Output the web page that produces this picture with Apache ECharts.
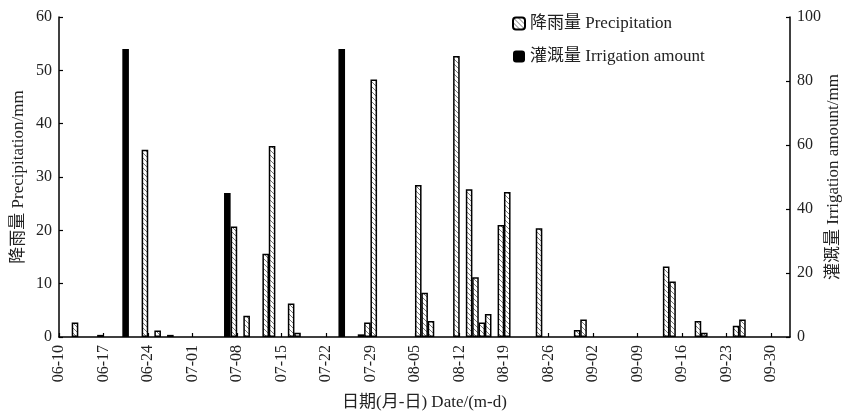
<!DOCTYPE html>
<html>
<head>
<meta charset="utf-8">
<script src="https://cdn.jsdelivr.net/npm/echarts@6/dist/echarts.min.js"></script>
<style>
html,body{margin:0;padding:0;background:#fff;}
#chart{width:844px;height:412px;}
</style>
</head>
<body>
<div id="chart"></div>
<script>
// ---- Data ----
const startDate = '06-10';
const tickLabels = ['06-10','06-17','06-24','07-01','07-08','07-15','07-22','07-29','08-05','08-12','08-19','08-26','09-02','09-09','09-16','09-23','09-30'];
const precipDates = ['06-12','06-16','06-23','06-25','06-27','07-07','07-09','07-12','07-13','07-16','07-17','07-27','07-28','07-29','08-05','08-06','08-07','08-11','08-13','08-14','08-15','08-16','08-18','08-19','08-24','08-30','08-31','09-13','09-14','09-18','09-19','09-24','09-25'];
const precipValues = [2.7,0.4,35.1,1.2,0.4,20.7,4.0,15.6,35.8,6.3,0.8,0.5,2.7,48.3,28.5,8.3,3.0,52.7,27.7,11.2,2.7,4.3,21.0,27.2,20.4,1.3,3.3,13.2,10.4,3.0,0.8,2.1,3.3];
const irrigDates = ['06-21','07-07','07-25'];
const irrigValues = [90,45,90];
const precipName = '降雨量 Precipitation';
const irrigName = '灌溉量 Irrigation amount';

function dayIndex(md){
  const p = md.split('-').map(Number);
  const s = startDate.split('-').map(Number);
  return Math.round((Date.UTC(2001,p[0]-1,p[1]) - Date.UTC(2001,s[0]-1,s[1]))/86400000);
}

// hatch pattern
const pc = document.createElement('canvas');
pc.width = 5; pc.height = 5;
const cx = pc.getContext('2d');
cx.fillStyle = '#fff'; cx.fillRect(0,0,5,5);
cx.strokeStyle = '#7a7a7a'; cx.lineWidth = 1;
cx.beginPath();
cx.moveTo(-1,-1); cx.lineTo(6,6);
cx.moveTo(-1,4); cx.lineTo(1,6);
cx.moveTo(4,-1); cx.lineTo(6,1);
cx.stroke();

const FONT = "'Liberation Serif', 'Noto Sans CJK SC', serif";
const chart = echarts.init(document.getElementById('chart'));
chart.setOption({
  animation: false,
  backgroundColor: '#fff',
  textStyle: {fontFamily: FONT},
  grid: {left: 59, right: 54, top: 17, bottom: 75, containLabel: false, outerBoundsMode: 'none'},
  legend: {
    data: [precipName, irrigName],
    orient: 'vertical', left: 507, top: 10,
    itemWidth: 12, itemHeight: 12, itemGap: 16,
    textStyle: {fontFamily: FONT, fontSize: 17, color: '#222'}
  },
  xAxis: {
    type: 'value', min: 0, max: 115, interval: 7,
    name: '日期(月-日) Date/(m-d)', nameLocation: 'middle', nameGap: 57,
    nameTextStyle: {fontFamily: FONT, fontSize: 17, color: '#222'},
    axisLine: {show: true, lineStyle: {color: '#000', width: 1.5}},
    axisTick: {show: true, inside: true, length: 4, lineStyle: {color: '#000', width: 1.2}},
    splitLine: {show: false},
    axisLabel: {
      rotate: 90, margin: 8, fontSize: 16, color: '#222', fontFamily: FONT,
      showMaxLabel: false,
      formatter: function(v){ return (v % 7 === 0 && v/7 < tickLabels.length) ? tickLabels[v/7] : ''; }
    }
  },
  yAxis: [
    {
      type: 'value', min: 0, max: 60, interval: 10, position: 'left',
      name: '降雨量 Precipitation/mm', nameLocation: 'middle', nameGap: 32, nameRotate: 90,
      nameMoveOverlap: false,
      nameTextStyle: {fontFamily: FONT, fontSize: 17, color: '#222'},
      axisLine: {show: true, lineStyle: {color: '#000', width: 1.5}},
      axisTick: {show: true, inside: true, length: 4, lineStyle: {color: '#000', width: 1.2}},
      axisLabel: {margin: 7, fontSize: 16, color: '#222', fontFamily: FONT},
      splitLine: {show: false}
    },
    {
      type: 'value', min: 0, max: 100, interval: 20, position: 'right',
      name: '灌溉量 Irrigation amount/mm', nameLocation: 'middle', nameGap: 35, nameRotate: 90,
      nameMoveOverlap: false,
      nameTextStyle: {fontFamily: FONT, fontSize: 17, color: '#222'},
      axisLine: {show: true, lineStyle: {color: '#000', width: 1.5}},
      axisTick: {show: true, inside: true, length: 4, lineStyle: {color: '#000', width: 1.2}},
      axisLabel: {margin: 7, fontSize: 16, color: '#222', fontFamily: FONT},
      splitLine: {show: false}
    }
  ],
  series: [
    {
      name: irrigName, type: 'bar', yAxisIndex: 1,
      barWidth: 6.6, barGap: '0%',
      itemStyle: {color: '#000'},
      data: irrigDates.map((d,i) => [dayIndex(d), irrigValues[i]])
    },
    {
      name: precipName, type: 'bar', yAxisIndex: 0,
      barWidth: 6.6, barGap: '0%',
      itemStyle: {color: {image: pc, repeat: 'repeat'}, borderColor: '#000', borderWidth: 1.5},
      data: precipDates.map((d,i) => [dayIndex(d), precipValues[i]])
    }
  ]
});
</script>
</body>
</html>
